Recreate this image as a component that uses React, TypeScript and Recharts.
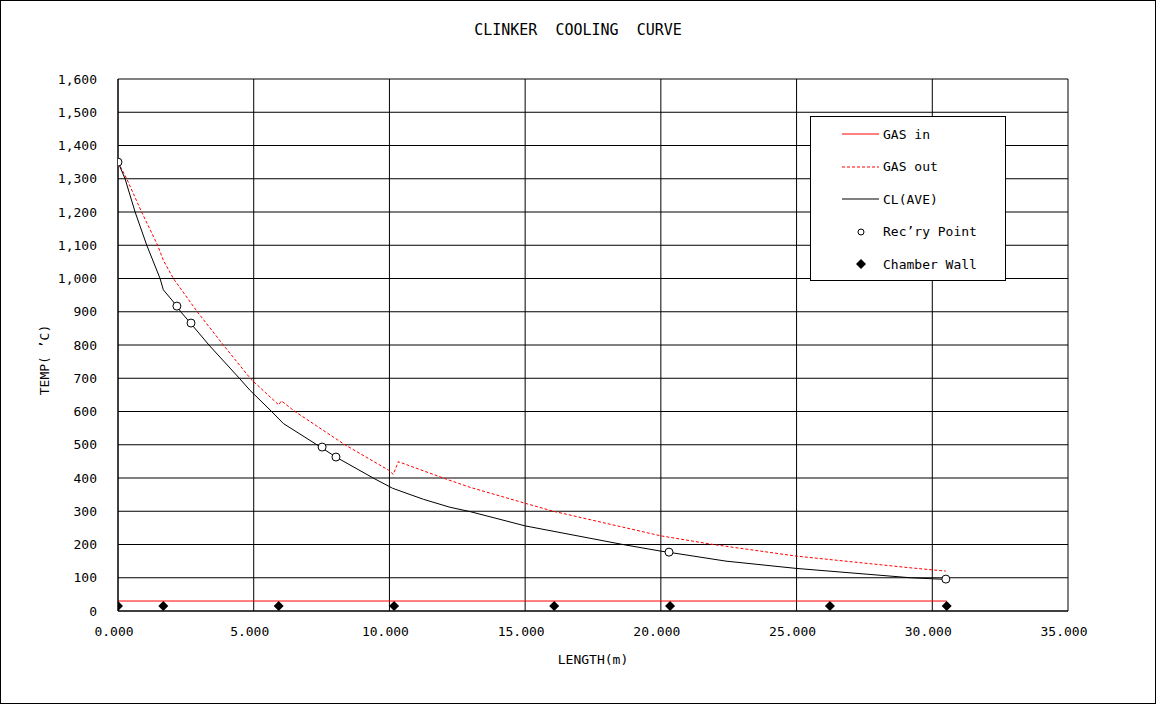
import React from "react";
import {
  ComposedChart,
  Line,
  Scatter,
  XAxis,
  YAxis,
  CartesianGrid,
} from "recharts";

// CL(AVE) — average clinker temperature along the cooler
const clLength = [
  0, 0.26, 0.63, 1.06, 1.55, 1.67, 2.16, 2.31, 2.68, 3.35, 4.47, 4.86, 5.66,
  6.09, 7.5, 8.03, 9.4, 10.12, 11.25, 12.23, 12.97, 15.0, 18.6, 20.0, 20.34,
  22.4, 25.0, 29.2, 30.5,
];
const clTemp = [
  1350, 1300, 1200, 1100, 1000, 966, 918, 900, 865, 800, 700, 664, 600, 564,
  491, 463, 400, 369, 336, 312, 299, 256, 200, 180, 176, 150, 128, 100, 95,
];

// GAS out
const gasOutLength = [
  0, 0.32, 0.87, 1.46, 1.67, 2.04, 2.92, 3.88, 4.9, 5.92, 6.02, 6.52, 8.36,
  9.96, 10.14, 10.33, 11.98, 12.97, 15.0, 16.04, 20.0, 21.93, 25.0, 29.18, 30.5,
];
const gasOutTemp = [
  1350, 1300, 1200, 1100, 1055, 1000, 900, 800, 697, 620, 632, 600, 500, 424,
  411, 449, 400, 372, 324, 300, 226, 200, 165, 130, 120,
];

// GAS in
const gasInLength = [0, 30.53];
const gasInTemp = [30, 30];

// Rec'ry points
const recLength = [0, 2.17, 2.69, 7.52, 8.03, 20.3, 30.5];
const recTemp = [1350, 917, 866, 493, 463, 177, 96];

// Chamber walls
const wallLength = [0, 1.67, 5.92, 10.17, 16.07, 20.34, 26.23, 30.53];
const wallTemp = 15;

const xTicks = [0, 5, 10, 15, 20, 25, 30, 35];
const yTicks = [
  0, 100, 200, 300, 400, 500, 600, 700, 800, 900, 1000, 1100, 1200, 1300,
  1400, 1500, 1600,
];

const legendItems = [
  { name: "GAS in", kind: "line" },
  { name: "GAS out", kind: "dash" },
  { name: "CL(AVE)", kind: "black" },
  { name: "Rec’ry Point", kind: "circle" },
  { name: "Chamber Wall", kind: "diamond" },
];

const zip = (xs: number[], ys: number[]) =>
  xs.map((x, i) => ({ x, y: ys[i] }));

const clData = zip(clLength, clTemp);
const gasOutData = zip(gasOutLength, gasOutTemp);
const gasInData = zip(gasInLength, gasInTemp);
const recData = zip(recLength, recTemp);
const wallData = wallLength.map((x) => ({ x, y: wallTemp }));

const FONT = "'DejaVu Sans Mono', monospace";

const OpenCircle = (props: any) => (
  <circle cx={props.cx} cy={props.cy} r={4} fill="#fff" stroke="#000" strokeWidth={1} />
);

const Diamond = (props: any) => {
  const { cx, cy } = props;
  const s = 5;
  return (
    <polygon
      points={`${cx},${cy - s} ${cx + s},${cy} ${cx},${cy + s} ${cx - s},${cy}`}
      fill="#000"
    />
  );
};

const LegendBox = () => (
  <div
    style={{
      position: "absolute",
      left: 810,
      top: 116,
      width: 196,
      height: 165,
      boxSizing: "border-box",
      border: "1px solid #000",
      background: "#fff",
      paddingTop: 1,
      fontFamily: FONT,
      fontSize: 13,
      color: "#000",
    }}
  >
    {legendItems.map((it) => (
      <div key={it.name} style={{ height: 32.5, display: "flex", alignItems: "center" }}>
        <svg width={72} height={16} style={{ display: "block" }}>
          {it.kind === "line" && <line x1={31} x2={68} y1={8} y2={8} stroke="#f00" />}
          {it.kind === "dash" && (
            <line x1={31} x2={68} y1={8} y2={8} stroke="#f00" strokeDasharray="3 2" />
          )}
          {it.kind === "black" && <line x1={31} x2={68} y1={8} y2={8} stroke="#000" />}
          {it.kind === "circle" && (
            <circle cx={50} cy={8} r={3} fill="#fff" stroke="#000" />
          )}
          {it.kind === "diamond" && (
            <polygon points="50,3 55,8 50,13 45,8" fill="#000" />
          )}
        </svg>
        <span>{it.name}</span>
      </div>
    ))}
  </div>
);

export default function App() {
  return (
    <div
      style={{
        position: "absolute",
        left: 0,
        top: 0,
        width: 1156,
        height: 704,
        background: "#fff",
        fontFamily: FONT,
      }}
    >
      <div
        style={{
          position: "absolute",
          top: 21,
          left: 0,
          width: 1156,
          textAlign: "center",
          fontSize: 15,
          color: "#000",
          whiteSpace: "pre",
        }}
      >
        {"CLINKER  COOLING  CURVE"}
      </div>
      <ComposedChart
        width={1156}
        height={704}
        margin={{ top: 79, right: 88, left: 0, bottom: 0 }}
        style={{ position: "absolute", left: 0, top: 0 }}
      >
        <CartesianGrid stroke="#000" strokeWidth={1} />
        <XAxis
          type="number"
          dataKey="x"
          domain={[0, 35]}
          ticks={xTicks}
          allowDataOverflow
          height={93}
          tickLine={false}
          tickMargin={10}
          axisLine={{ stroke: "#000" }}
          tick={{ fill: "#000", fontSize: 13, fontFamily: FONT, dx: -4 }}
          tickFormatter={(v: number) => v.toFixed(3)}
          label={{
            value: "LENGTH(m)",
            position: "center",
            dy: 2,
            fill: "#000",
            fontSize: 13,
            fontFamily: FONT,
          }}
        />
        <YAxis
          type="number"
          dataKey="y"
          domain={[0, 1600]}
          ticks={yTicks}
          width={118}
          tickLine={false}
          tickMargin={15}
          axisLine={{ stroke: "#000" }}
          tick={{ fill: "#000", fontSize: 13, fontFamily: FONT }}
          tickFormatter={(v: number) => v.toLocaleString("en-US")}
          label={{
            value: "TEMP( ’C)",
            angle: -90,
            position: "center",
            dx: -15,
            dy: 15,
            fill: "#000",
            fontSize: 13,
            fontFamily: FONT,
          }}
        />
        <Line
          data={gasInData}
          dataKey="y"
          name="GAS in"
          stroke="#ff0000"
          strokeWidth={1}
          dot={false}
          isAnimationActive={false}
        />
        <Line
          data={gasOutData}
          dataKey="y"
          name="GAS out"
          stroke="#ff0000"
          strokeWidth={1}
          strokeDasharray="3 2"
          dot={false}
          isAnimationActive={false}
        />
        <Line
          data={clData}
          dataKey="y"
          name="CL(AVE)"
          stroke="#000"
          strokeWidth={1}
          dot={false}
          isAnimationActive={false}
        />
        <Scatter
          data={recData}
          dataKey="y"
          name="Rec'ry Point"
          shape={OpenCircle}
          isAnimationActive={false}
        />
        <Scatter
          data={wallData}
          dataKey="y"
          name="Chamber Wall"
          shape={Diamond}
          isAnimationActive={false}
        />
      </ComposedChart>
      <LegendBox />
      <div
        style={{
          position: "absolute",
          left: 0,
          top: 0,
          width: 1156,
          height: 704,
          boxSizing: "border-box",
          border: "1px solid #000",
          pointerEvents: "none",
        }}
      />
    </div>
  );
}
